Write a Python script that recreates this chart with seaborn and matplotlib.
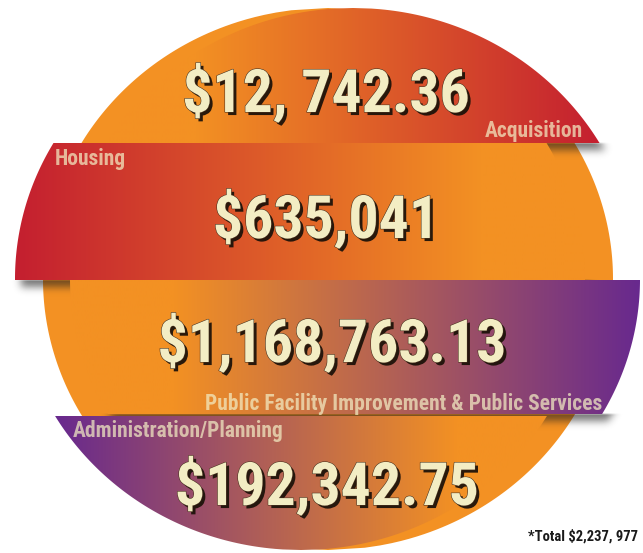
import numpy as np
import matplotlib
matplotlib.use("Agg")
import matplotlib.pyplot as plt
from matplotlib.path import Path
from matplotlib.patches import PathPatch
from matplotlib import font_manager as fm
import matplotlib.patheffects as pe
import seaborn as sns

# ---- data -------------------------------------------------------------
categories = [
    "Acquisition",
    "Housing",
    "Public Facility Improvement & Public Services",
    "Administration/Planning",
]
amounts = [12742.36, 635041.00, 1168763.13, 192342.75]
amount_labels = ["$12, 742.36", "$635,041", "$1,168,763.13", "$192,342.75"]
total_label = "*Total $2,237, 977"

# ---- style ------------------------------------------------------------
sns.set_theme(style="white")
ORANGE, RED, PURPLE = "#F39123", "#C41F30", "#68298E"
CREAM = "#F3EDC4"
band_gradients = [(ORANGE, RED), (RED, ORANGE), (ORANGE, PURPLE), (PURPLE, ORANGE)]

installed = {f.name for f in fm.fontManager.ttflist}
narrow = next((n for n in ["Liberation Sans Narrow", "Roboto Condensed",
                           "Open Sans Condensed"] if n in installed), None)
FONT = dict(family=[narrow, "DejaVu Sans"] if narrow else ["DejaVu Sans"],
            stretch="condensed", weight="bold")

# ---- layout (pixel space) ---------------------------------------------
W, H = 643, 553
CX, CY, RX, RY = 328, 279, 285, 271
band_limits = [(CY - RY, 143), (143, 280), (280, 414), (416, CY + RY)]
band_shift = [25, -28, 27, -27]
value_pos = [(326, 112), (326, 238), (332, 362), (327, 505)]
name_pos = [(583, 137, "right"), (55, 165, "left"),
            (602, 410, "right"), (73, 437, "left")]

fig = plt.figure(figsize=(W / 100, H / 100), dpi=100)
ax = fig.add_axes([0, 0, 1, 1])
ax.set_xlim(0, W)
ax.set_ylim(H, 0)
ax.axis("off")


def band_path(y0, y1, dx):
    ys = np.linspace(y0, y1, 240)
    half = RX * np.sqrt(np.clip(1 - ((ys - CY) / RY) ** 2, 0, None))
    right = np.column_stack([CX + dx + half, ys])
    left = np.column_stack([CX + dx - half, ys])[::-1]
    verts = np.vstack([right, left, right[:1]])
    return Path(verts, closed=True)


def gaussian_blur(img, sigma):
    r = int(3 * sigma)
    k = np.exp(-0.5 * (np.arange(-r, r + 1) / sigma) ** 2)
    k /= k.sum()
    out = np.apply_along_axis(lambda v: np.convolve(v, k, mode="same"), 0, img)
    return np.apply_along_axis(lambda v: np.convolve(v, k, mode="same"), 1, out)


gx, gy = np.meshgrid(np.arange(W) + 0.5, np.arange(H) + 0.5)
grid = np.column_stack([gx.ravel(), gy.ravel()])


def drop_shadow(path, bottom, off=(6, 7), sigma=4.0, strength=0.6):
    """Soft shadow cast below the lower edge of a band."""
    moved = Path(path.vertices + np.array(off), path.codes)
    mask = moved.contains_points(grid).reshape(H, W).astype(float)
    soft = gaussian_blur(mask, sigma)
    soft *= np.clip((gy - bottom + 1) / 2.0, 0, 1)
    rgba = np.zeros((H, W, 4))
    rgba[..., :3] = 0.12
    rgba[..., 3] = soft * strength
    ax.imshow(rgba, extent=(0, W, H, 0), interpolation="bilinear",
              aspect="auto", zorder=2)


def gradient_fill(path, c0, c1, z, hold=0.18):
    """Horizontal gradient; the orange end is held flat so it melts into the disc."""
    xs = path.vertices[:, 0]
    cmap = sns.blend_palette([c0, c1], as_cmap=True)
    t = np.linspace(0, 1, 512)
    if c1 == ORANGE:
        t = np.clip(t / (1 - hold), 0, 1)
    else:
        t = np.clip((t - hold) / (1 - hold), 0, 1)
    img = ax.imshow(t[None, :], cmap=cmap, vmin=0, vmax=1,
                    extent=(xs.min(), xs.max(), H, 0), aspect="auto",
                    interpolation="bilinear", zorder=z)
    img.set_clip_path(PathPatch(path, transform=ax.transData))


# background disc
disc = band_path(CY - RY, CY + RY, 0)
ax.add_patch(PathPatch(disc, facecolor=ORANGE, edgecolor="none", zorder=1))

# bands: drawn bottom first so each shadow falls on the band below it
for i in reversed(range(4)):
    y0, y1 = band_limits[i]
    p = band_path(y0, y1, band_shift[i])
    if i < 3:
        drop_shadow(p, y1)
    c0, c1 = band_gradients[i]
    gradient_fill(p, c0, c1, 3)

# amounts
value_fx = [pe.SimplePatchShadow(offset=(2.2, -2.2), shadow_rgbFace="#1e130a", alpha=0.95),
            pe.Stroke(linewidth=0.8, foreground="#4a3420"), pe.Normal()]
for label, (x, y) in zip(amount_labels, value_pos):
    ax.text(x, y, label, ha="center", va="baseline", fontsize=43,
            color=CREAM, path_effects=value_fx, zorder=5, **FONT)

# category names
for name, (x, y, ha) in zip(categories, name_pos):
    ax.text(x, y, name, ha=ha, va="baseline", fontsize=15.5,
            color=CREAM, alpha=0.72, zorder=5, **FONT)

ax.text(638, 541, total_label, ha="right", va="baseline", fontsize=10.5,
        color="#1a1a1a", zorder=5, **FONT)

fig.savefig("out.png", dpi=100, facecolor="white")
